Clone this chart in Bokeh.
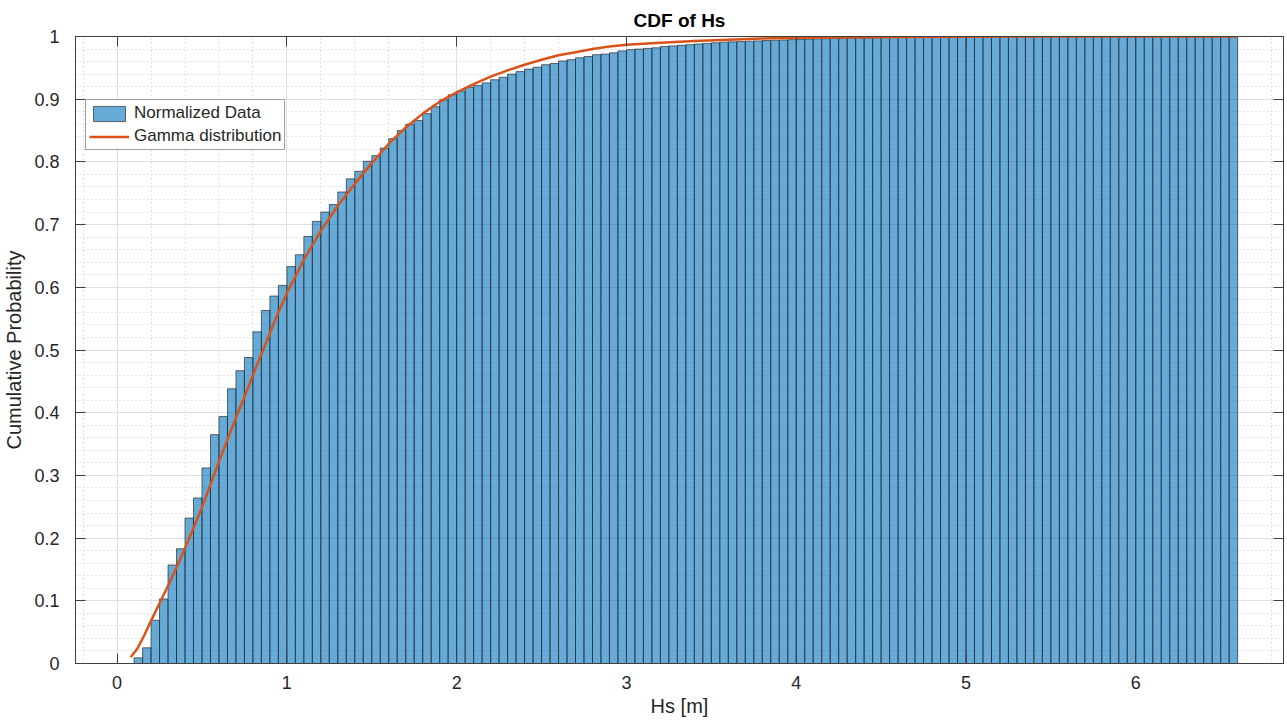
import numpy as np
from bokeh.plotting import figure
from bokeh.models import (Range1d, SingleIntervalTicker, LinearAxis, Legend, LegendItem,
                          CustomJSTickFormatter, ColumnDataSource)
from bokeh.embed import file_html
from bokeh.resources import INLINE

# ---------------- data ----------------
BIN_START = 0.1
BIN_WIDTH = 0.05
cdf_values = [
    0.009, 0.025, 0.069, 0.103, 0.157, 0.183, 0.232, 0.264, 0.312, 0.365,
    0.394, 0.438, 0.467, 0.488, 0.529, 0.563, 0.586, 0.603, 0.633, 0.652,
    0.681, 0.705, 0.720, 0.732, 0.752, 0.773, 0.785, 0.801, 0.810, 0.822,
    0.837, 0.850, 0.860, 0.866, 0.877, 0.888, 0.899, 0.907, 0.913, 0.919,
    0.922, 0.926, 0.931, 0.935, 0.940, 0.944, 0.948, 0.951, 0.955, 0.957,
    0.961, 0.963, 0.966, 0.968, 0.971, 0.972, 0.974, 0.977, 0.979, 0.980,
    0.981, 0.982, 0.984, 0.985, 0.986, 0.987, 0.988, 0.989, 0.990, 0.991,
    0.9915, 0.992, 0.9925, 0.993, 0.9935, 0.994, 0.9945, 0.995, 0.9955, 0.996,
    0.9963, 0.9966, 0.9969, 0.9972, 0.9975, 0.9977, 0.9979, 0.9981, 0.9983, 0.9985,
    0.9987, 0.9988, 0.9989, 0.9990, 0.9991, 0.9992, 0.9993, 0.9994, 0.9995, 0.9996,
    0.9997, 0.9997, 0.9998, 0.9998, 0.9998, 0.9999, 0.9999, 0.9999, 0.9999, 0.9999,
    1.0, 1.0, 1.0, 1.0, 1.0, 1.0, 1.0, 1.0, 1.0, 1.0,
    1.0, 1.0, 1.0, 1.0, 1.0, 1.0, 1.0, 1.0, 1.0, 1.0,
]
gamma_x = [0.08, 0.12, 0.16, 0.20, 0.25, 0.30, 0.35, 0.40, 0.45, 0.50, 0.55, 0.60, 0.65,
           0.70, 0.75, 0.80, 0.85, 0.90, 0.95, 1.00, 1.05, 1.10, 1.20, 1.30, 1.40,
           1.50, 1.60, 1.70, 1.80, 1.90, 2.00, 2.10, 2.20, 2.30, 2.40, 2.50, 2.60,
           2.70, 2.80, 2.90, 3.00, 3.20, 3.40, 3.60, 3.80, 4.00, 4.40, 5.00, 6.60]
gamma_y = [0.010, 0.024, 0.045, 0.068, 0.096, 0.124, 0.153, 0.184, 0.216, 0.249, 0.285, 0.322,
           0.357, 0.392, 0.425, 0.460, 0.493, 0.527, 0.560, 0.591, 0.617, 0.644, 0.690, 0.730,
           0.765, 0.798, 0.829, 0.855, 0.877, 0.896, 0.911, 0.924, 0.936, 0.946, 0.955, 0.963,
           0.970, 0.975, 0.980, 0.984, 0.987, 0.990, 0.993, 0.995, 0.997, 0.998, 0.999, 0.9998, 1.0]

TITLE = "CDF of Hs"
X_LABEL = "Hs [m]"
Y_LABEL = "Cumulative Probability"
LEGEND_LABELS = ["Normalized Data", "Gamma distribution"]

# ---------------- styling ----------------
FONT = "Liberation Sans"
TXT = "#262626"
AX = "#404040"

n = len(cdf_values)
edges = BIN_START + BIN_WIDTH * np.arange(n + 1)
bars = ColumnDataSource(dict(left=edges[:-1], right=edges[1:], top=cdf_values,
                             bottom=[0.0] * n))
line_src = ColumnDataSource(dict(x=gamma_x, y=gamma_y))

p = figure(width=1287, height=720, output_backend="svg", toolbar_location=None,
           x_range=Range1d(-0.245, 6.87), y_range=Range1d(0, 1),
           min_border_left=75, min_border_right=3, min_border_top=36, min_border_bottom=57,
           background_fill_color="white", border_fill_color="white")

p.title.text = TITLE
p.title.align = "center"
p.title.text_font = FONT
p.title.text_font_size = "19px"
p.title.text_font_style = "bold"
p.title.text_color = "#000000"
p.title.standoff = 3

p.outline_line_color = AX
p.outline_line_width = 1

xt = SingleIntervalTicker(interval=1, num_minor_ticks=5)
yt = SingleIntervalTicker(interval=0.1, num_minor_ticks=5)

p.xaxis.ticker = xt
p.yaxis.ticker = yt
p.yaxis.formatter = CustomJSTickFormatter(code="return (Math.round(tick*10)/10).toString();")

for ax in (p.xaxis[0], p.yaxis[0]):
    ax.axis_line_color = AX
    ax.major_tick_line_color = AX
    ax.major_tick_in = 10
    ax.major_tick_out = 0
    ax.minor_tick_line_color = None
    ax.major_label_text_font = FONT
    ax.major_label_text_font_size = "18px"
    ax.major_label_text_color = TXT
    ax.axis_label_text_font = FONT
    ax.axis_label_text_font_size = "20px"
    ax.axis_label_text_font_style = "normal"
    ax.axis_label_text_color = TXT

p.xaxis.axis_label = X_LABEL
p.yaxis.axis_label = Y_LABEL
p.xaxis.major_label_standoff = 8
p.xaxis.axis_label_standoff = 3
p.yaxis.major_label_standoff = 12
p.yaxis.axis_label_standoff = 6

# mirrored tick axes (box)
for loc, tk in (("right", yt), ("above", xt)):
    a = LinearAxis(ticker=tk, formatter=CustomJSTickFormatter(code="return '';"))
    a.axis_line_color = AX
    a.major_tick_line_color = AX
    a.major_tick_in = 10
    a.major_tick_out = 0
    a.minor_tick_line_color = None
    a.major_label_text_font_size = "0px"
    a.major_label_standoff = 0
    p.add_layout(a, loc)

# grids
for g in (p.xgrid[0], p.ygrid[0]):
    g.grid_line_color = "#dedede"
    g.grid_line_width = 1
    g.minor_grid_line_color = "#c8c8c8"
    g.minor_grid_line_dash = "1 3"
    g.minor_grid_line_width = 1
    g.level = "underlay"

r_bars = p.quad(left="left", right="right", top="top", bottom="bottom", source=bars,
                fill_color="#0072BD", fill_alpha=0.6,
                line_color="#262626", line_width=0.8, line_alpha=0.85)
r_line = p.line(x="x", y="y", source=line_src, line_color="#D95319", line_width=2.5)

legend = Legend(items=[LegendItem(label=LEGEND_LABELS[0], renderers=[r_bars]),
                       LegendItem(label=LEGEND_LABELS[1], renderers=[r_line])],
                location=(10, 513))
legend.label_text_font = FONT
legend.label_text_font_size = "17px"
legend.label_text_color = TXT
legend.border_line_color = AX
legend.border_line_width = 1
legend.background_fill_color = "white"
legend.background_fill_alpha = 1
legend.padding = 3
legend.spacing = 3
legend.margin = 0
legend.glyph_width = 40
legend.glyph_height = 19
legend.label_height = 19
legend.label_standoff = 5
p.add_layout(legend, "center")

open("out.html", "w").write(file_html(p, INLINE))
